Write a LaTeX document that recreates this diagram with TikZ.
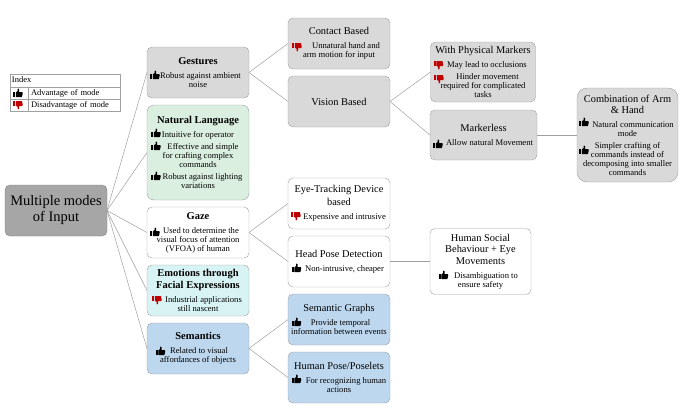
\documentclass[tikz,border=0pt]{standalone}
\usepackage{fontspec}
\setmainfont{Liberation Serif}
\usetikzlibrary{positioning}
\definecolor{boxgray}{HTML}{D9D9D9}
\definecolor{rootgray}{HTML}{A6A6A6}
\definecolor{langgreen}{HTML}{DAEFDF}
\definecolor{emocyan}{HTML}{D8F3F3}
\definecolor{semblue}{HTML}{BDD7EE}
\definecolor{edgegray}{HTML}{A0A0A0}
\definecolor{downred}{HTML}{C00000}
\newcommand{\ttl}[1]{{\fontsize{10.4}{11}\selectfont #1}}
\newcommand{\bolt}[1]{{\fontsize{10.5}{11}\selectfont\bfseries #1}}
\newcommand{\ind}[1]{\hspace*{#1pt}}
\begin{document}
\begin{tikzpicture}[x=1pt,y=-1pt,inner sep=0pt,outer sep=0pt]
      % Styles
      \tikzset{modebox/.style={draw=edgegray,rounded corners=5pt,minimum width=102pt,align=center,
                 font=\fontsize{8.6}{9}\selectfont,execute at begin node={\vspace*{2pt}}},
               rootbox/.style={draw=gray,rounded corners=5pt,fill=rootgray,minimum width=102pt,minimum height=51pt,
                 align=center,font=\fontsize{14.5}{16}\selectfont,execute at begin node={\vspace*{8pt}}},
               link/.style={draw=edgegray,line width=0.5pt},
               cell/.style={draw=edgegray,line width=0.5pt,font=\fontsize{8.5}{9}\selectfont,
                 text depth=1.5pt,text height=6pt},
               thumbup/.pic={\fill (-4.6,-1) rectangle (-2.9,4);
                 \fill (-2.2,4) -- (-2.2,-0.6) -- (-0.4,-2) -- (-0.2,-4.6) .. controls (1.2,-5) and (1.8,-3) .. (1.1,-1)
                   -- (4.2,-1) .. controls (5,-1) and (4.8,1) .. (4.4,2) -- (3.8,4) -- cycle;},
               thumbdown/.pic={\begin{scope}[yscale=-1,downred]
                 \fill (-4.6,-1) rectangle (-2.9,4);
                 \fill (-2.2,4) -- (-2.2,-0.6) -- (-0.4,-2) -- (-0.2,-4.6) .. controls (1.2,-5) and (1.8,-3) .. (1.1,-1)
                   -- (4.2,-1) .. controls (5,-1) and (4.8,1) .. (4.4,2) -- (3.8,4) -- cycle;
                 \end{scope}}}
      \useasboundingbox (0,0) rectangle (685,410);

      % Index table
      \node[cell,minimum width=110pt,minimum height=13pt,text width=106pt] (index) at (65,80.5) {Index};
      \node[cell,minimum width=18pt,minimum height=12pt] (advicon) at (19,93) {};
      \node[cell,minimum width=92pt,minimum height=12pt,text width=86pt] (advtext) at (74,93) {Advantage of mode};
      \node[cell,minimum width=18pt,minimum height=12pt] (disicon) at (19,105) {};
      \node[cell,minimum width=92pt,minimum height=12pt,text width=86pt] (distext) at (74,105) {Disadvantage of mode};

      % Root
      \node[rootbox] (root) at (56,210.5) {Multiple modes\\of Input};

      % First column
      \node[modebox,fill=boxgray,minimum height=51pt] (gestures) at (198,72.5)
        {\bolt{Gestures}\\[5pt]\ind{5}Robust against ambient\\noise};
      \node[modebox,fill=langgreen,rounded corners=7pt,minimum height=95pt] (language) at (198,152.5)
        {\bolt{Natural Language}\\[5pt]Intuitive for operator\\[3.5pt]\ind{10}Effective and simple\\for crafting complex\\commands\\[3pt]\ind{9}Robust against lighting\\variations};
      \node[modebox,fill=white,minimum height=51pt] (gaze) at (198,232.5)
        {\bolt{Gaze}\\[5pt]\ind{6}Used to determine the\\visual focus of attention\\(VFOA) of human};
      \node[modebox,fill=emocyan,minimum height=51pt] (emotions) at (198,290.5)
        {\bolt{Emotions through}\\[2pt]\bolt{Facial Expressions}\\[5pt]\ind{11}Industrial applications\\still nascent};
      \node[modebox,fill=semblue,minimum height=51pt] (semantics) at (198,348.5)
        {\bolt{Semantics}\\[5pt]\ind{2}Related to visual\\affordances of objects};

      % Second column
      \node[modebox,fill=boxgray,minimum height=51pt] (contact) at (339,43.5)
        {\ttl{Contact Based}\\[5pt]\ind{14}Unnatural hand and\\arm motion for input};
      \node[modebox,fill=boxgray,minimum height=51pt] (vision) at (339,101.5) {\ttl{Vision Based}};
      \node[modebox,fill=white,minimum height=51pt] (eyetrack) at (339,203.5)
        {\ttl{Eye-Tracking Device}\\[2pt]\ttl{based}\\[5pt]\ind{11}Expensive and intrusive};
      \node[modebox,fill=white,minimum height=51pt] (headpose) at (339,261.5)
        {\ttl{Head Pose Detection}\\[5pt]\ind{11}Non-intrusive, cheaper};
      \node[modebox,fill=semblue,minimum height=51pt] (graphs) at (339,319.5)
        {\ttl{Semantic Graphs}\\[5pt]\ind{3}Provide temporal\\information between events};
      \node[modebox,fill=semblue,minimum height=51pt] (poselets) at (339,377.5)
        {\ttl{Human Pose/Poselets}\\[5pt]\ind{14}For recognizing human\\actions};

      % Third column
      \node[modebox,fill=boxgray,minimum width=105pt,minimum height=60pt] (markers) at (483,72)
        {\ttl{With Physical Markers}\\[5pt]\ind{8}May lead to occlusions\\[3.5pt]\ind{9}Hinder movement\\required for complicated\\tasks};
      \node[modebox,fill=boxgray,minimum width=107pt,minimum height=50pt] (markerless) at (483.5,135)
        {\ttl{Markerless}\\[5pt]\ind{12}Allow natural Movement};
      \node[modebox,fill=white,minimum width=101pt,minimum height=66pt] (social) at (480.5,261.5)
        {\ttl{Human Social}\\[2pt]\ttl{Behaviour + Eye}\\[2pt]\ttl{Movements}\\[5pt]\ind{11}Disambiguation to\\ensure safety};

      % Last box
      \node[modebox,fill=boxgray,rounded corners=10pt,minimum width=101pt,minimum height=94pt] (combo) at (627.5,135)
        {\ttl{Combination of Arm}\\[2pt]\ttl{\&\ Hand}\\[5pt]\ind{11}Natural communication\\mode\\[3pt]Simpler crafting of\\commands instead of\\decomposing into smaller\\commands};

      % Connectors
      \foreach \a/\b in {root/gestures,root/language,root/gaze,root/emotions,root/semantics,
                         gestures/contact,gestures/vision,vision/markers,vision/markerless,
                         markerless/combo,gaze/eyetrack,gaze/headpose,headpose/social,
                         semantics/graphs,semantics/poselets}{%
        \draw[link] (\a.east) -- (\b.west);
      }

      % Thumbs
      \foreach \x/\y in {18/93,155/75,156/133,156/146,156/176,155/232,160.5/351,
                         438/144,296.5/268,296.5/322,296.5/379,443.5/275,584/122,584/150}{%
        \pic at (\x,\y) {thumbup};
      }
      \foreach \x/\y in {18/105,157/300,297/47,438.5/65,439/79,296/216}{%
        \pic at (\x,\y) {thumbdown};
      }
    \end{tikzpicture}
\end{document}
